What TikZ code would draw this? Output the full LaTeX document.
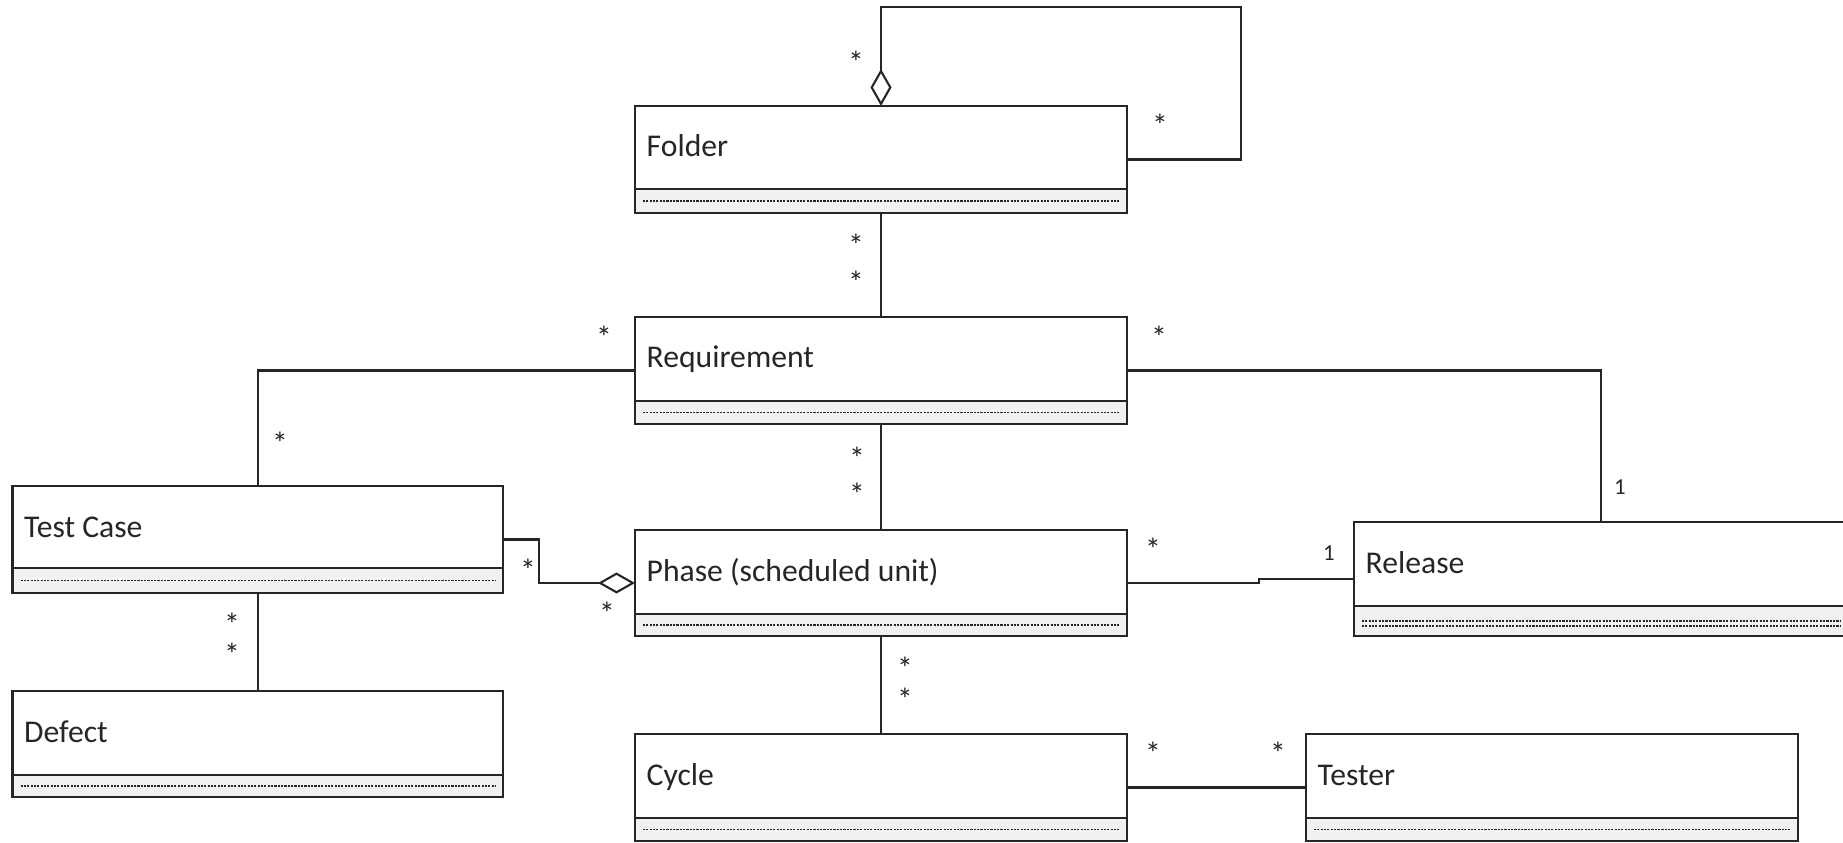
\documentclass[tikz,border=0pt]{standalone}
\usepackage{fontspec}
\setmainfont{Carlito}
\usetikzlibrary{arrows.meta,calc}
\definecolor{inkc}{HTML}{262626}
\definecolor{attrgray}{HTML}{F1F1F1}
\tikzset{
  classframe/.style={draw=inkc, line width=0.6pt, fill=white, rectangle, inner sep=0pt, outer sep=0pt},
  attrpart/.style={draw=inkc, line width=0.6pt, fill=attrgray},
  dotline/.style={draw=inkc, line width=0.45pt, dash pattern=on 0.6pt off 0.35pt},
  classname/.style={anchor=base west, inner sep=0pt, text=inkc, font=\fontsize{9pt}{11pt}\selectfont},
  assoc/.style={draw=inkc, line width=0.6pt},
  aggr/.style={assoc, {Diamond[open, length=0.37cm, width=0.21cm, line width=0.6pt]}-},
  mult/.style={inner sep=0pt, text=inkc, font=\fontsize{9pt}{10pt}\selectfont, yshift=-1.4pt},
  multone/.style={inner sep=0pt, text=inkc, font=\fontsize{6.5pt}{8pt}\selectfont},
}
% \umlclass{name}{left}{top}{width}{height}{attribute band height}{label}
\newcommand{\umlclass}[7]{%
  \node[classframe, anchor=north west, minimum width={#4*0.01cm}, minimum height={#5*0.01cm}] (#1) at (#2,#3) {};
  \path[attrpart] ($(#1.south west)+(0,-#6)$) rectangle (#1.south east);
  \path[dotline] ($(#1.south west)+(8,{-#6/2})$) -- ($(#1.south east)+(-8,{-#6/2})$);
  \node[classname] (#1-label) at ($(#1.north west)+(11,51)$) {#7};
}
\begin{document}
\begin{tikzpicture}[x=0.01cm, y=-0.01cm]
\useasboundingbox (0,0) rectangle (1843,843);
\begin{scope}
\clip (0,0) rectangle (1843,843);

% classes
\umlclass{folder}{635}{106}{492}{107}{24}{Folder}
\umlclass{req}{635}{317}{492}{107}{23}{Requirement}
\umlclass{phase}{635}{530}{492}{106}{22}{Phase (scheduled unit)}
\umlclass{tc}{12.5}{486}{490.5}{107}{25}{Test Case}
\umlclass{defect}{12.5}{691}{490.5}{106}{22}{Defect}
\umlclass{cycle}{635}{734}{492}{107}{23}{Cycle}
\umlclass{tester}{1306}{734}{492}{107}{23}{Tester}
\umlclass{release}{1354}{522}{494}{114}{30}{Release}
% second attribute row of Release
\path[dotline] ($(release.south west)+(8,-10)$) -- ($(release.south east)+(-8,-10)$);
\end{scope}

% associations
\coordinate (loopc) at (1240.6,7);
\draw[aggr] (folder.north) |- (loopc) |- (folder.east);
\draw[assoc] (folder.south) -- (req.north);
\draw[assoc] (req.west) -| (tc.north);
\draw[assoc] (req.east) -| (release.north);
\draw[assoc] (req.south) -- (phase.north);
\draw[aggr] (phase.west) -- ++(-96,0) |- (tc.east);
\draw[assoc] (phase.east) -- ++(132,0) |- (release.west);
\draw[assoc] (tc.south) -- (defect.north);
\draw[assoc] (phase.south) -- (cycle.north);
\draw[assoc] (cycle.east) -- (tester.west);

% multiplicities
\node[mult] (m-fold-a) at (856,57) {*};
\node[mult] (m-fold-b) at (1160,120) {*};
\node[mult] (m-fr-a) at (856,240) {*};
\node[mult] (m-fr-b) at (856,277) {*};
\node[mult] (m-rt-a) at (604,332) {*};
\node[mult] (m-rt-b) at (280,438) {*};
\node[mult] (m-rr-a) at (1159,332) {*};
\node[multone] (m-rr-b) at (1620,487) {1};
\node[mult] (m-rp-a) at (857,453) {*};
\node[mult] (m-rp-b) at (857,489) {*};
\node[mult] (m-tp-a) at (528,565) {*};
\node[mult] (m-tp-b) at (607,608) {*};
\node[mult] (m-pr-a) at (1153,544) {*};
\node[multone] (m-pr-b) at (1329,553) {1};
\node[mult] (m-td-a) at (232,619) {*};
\node[mult] (m-td-b) at (232,649) {*};
\node[mult] (m-pc-a) at (905,663) {*};
\node[mult] (m-pc-b) at (905,694) {*};
\node[mult] (m-ct-a) at (1153,748) {*};
\node[mult] (m-ct-b) at (1278,748) {*};
\end{tikzpicture}
\end{document}
